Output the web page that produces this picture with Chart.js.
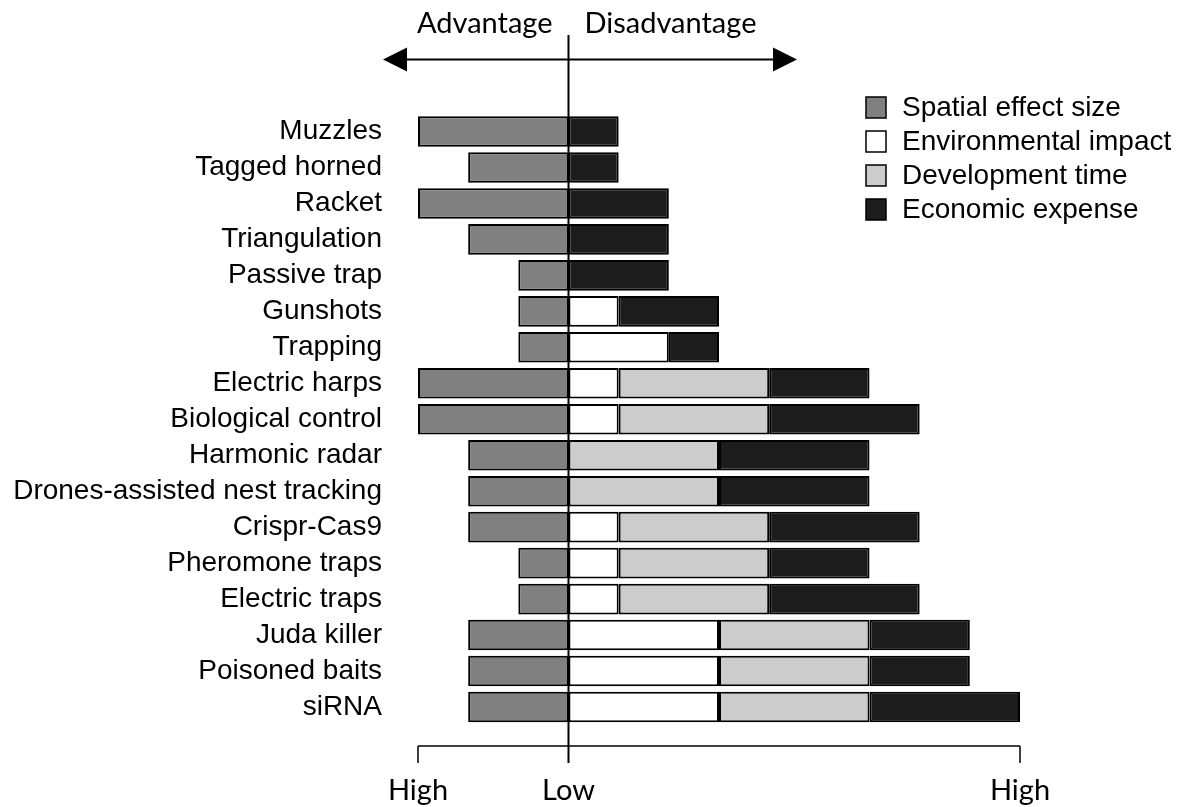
<!DOCTYPE html>
<html>
<head>
<meta charset="utf-8">
<script src="https://cdn.jsdelivr.net/npm/chart.js@4/dist/chart.umd.min.js"></script>
<style>
  html, body { margin: 0; padding: 0; background: #ffffff; }
  canvas { display: block; }
</style>
</head>
<body>
<canvas id="c" width="1187" height="807"></canvas>
<script>
// ---- Data ----
const categories = [
  'Muzzles', 'Tagged horned', 'Racket', 'Triangulation', 'Passive trap',
  'Gunshots', 'Trapping', 'Electric harps', 'Biological control', 'Harmonic radar',
  'Drones-assisted nest tracking', 'Crispr-Cas9', 'Pheromone traps', 'Electric traps',
  'Juda killer', 'Poisoned baits', 'siRNA'
];
const spatialEffect = [-3, -2, -3, -2, -1, -1, -1, -3, -3, -2, -2, -2, -1, -1, -2, -2, -2];
const environmentalImpact = [null, null, null, null, null, 1, 2, 1, 1, null, null, 1, 1, 1, 3, 3, 3];
const developmentTime = [null, null, null, null, null, null, null, 3, 3, 3, 3, 3, 3, 3, 3, 3, 3];
const economicExpense = [1, 1, 2, 2, 2, 2, 1, 2, 3, 3, 3, 3, 2, 3, 2, 2, 3];

const seriesNames = ['Spatial effect size', 'Environmental impact', 'Development time', 'Economic expense'];
const seriesColors = ['#808080', '#ffffff', '#cccccc', '#1c1c1c'];

const bracketTicks = [-3, 0, 9];
const bracketLabels = ['High', 'Low', 'High'];
const directionLabels = ['Advantage', 'Disadvantage'];

const labelFont = '"Liberation Sans", Arial, sans-serif';
const calFont = 'Lato, "Open Sans", sans-serif';

const overlay = {
  id: 'overlay',
  afterDatasetsDraw(chart) {
    const ctx = chart.ctx;
    const x = chart.scales.x;
    const x0 = x.getPixelForValue(0);
    ctx.save();
    ctx.strokeStyle = '#000';
    ctx.fillStyle = '#000';

    // central vertical line
    ctx.lineWidth = 2;
    ctx.beginPath();
    ctx.moveTo(x0, 35);
    ctx.lineTo(x0, 763);
    ctx.stroke();

    // double arrow
    const ay = 59.5;
    ctx.beginPath();
    ctx.moveTo(400, ay);
    ctx.lineTo(780, ay);
    ctx.stroke();
    ctx.beginPath();
    ctx.moveTo(383, ay);
    ctx.lineTo(407, ay - 12);
    ctx.lineTo(407, ay + 12);
    ctx.closePath();
    ctx.fill();
    ctx.beginPath();
    ctx.moveTo(797, ay);
    ctx.lineTo(773, ay - 12);
    ctx.lineTo(773, ay + 12);
    ctx.closePath();
    ctx.fill();

    // direction labels
    ctx.font = '29px ' + calFont;
    ctx.textBaseline = 'alphabetic';
    ctx.textAlign = 'right';
    ctx.fillText(directionLabels[0], x0 - 16, 33);
    ctx.textAlign = 'left';
    ctx.fillText(directionLabels[1], x0 + 16, 33);

    // bottom bracket
    const by = 746, bt = 763;
    const xs = bracketTicks.map(v => x.getPixelForValue(v));
    ctx.lineWidth = 1.5;
    ctx.beginPath();
    ctx.moveTo(xs[0], by);
    ctx.lineTo(xs[xs.length - 1], by);
    ctx.stroke();
    ctx.beginPath();
    xs.forEach((px, i) => {
      if (i === 1) return;
      ctx.moveTo(px, by);
      ctx.lineTo(px, bt);
    });
    ctx.stroke();
    ctx.textAlign = 'center';
    bracketLabels.forEach((t, i) => ctx.fillText(t, xs[i], 800));

    // legend
    ctx.font = '28px ' + labelFont;
    ctx.textBaseline = 'middle';
    ctx.textAlign = 'left';
    chart.data.datasets.forEach((ds, i) => {
      const cy = 107 + i * 34;
      ctx.fillStyle = ds.backgroundColor;
      ctx.fillRect(866, cy - 10, 20, 21);
      ctx.lineWidth = 1.5;
      ctx.strokeStyle = '#000';
      ctx.strokeRect(866, cy - 10, 20, 21);
      ctx.fillStyle = '#000';
      ctx.fillText(ds.label, 902, cy + 1);
    });
    ctx.restore();
  }
};

const seriesData = [spatialEffect, environmentalImpact, developmentTime, economicExpense];

new Chart(document.getElementById('c'), {
  type: 'bar',
  data: {
    labels: categories,
    datasets: seriesNames.map((name, i) => ({
      label: name,
      data: seriesData[i],
      backgroundColor: seriesColors[i],
      borderColor: '#000000',
      borderWidth: 2,
      borderSkipped: false,
      categoryPercentage: 1,
      barPercentage: 0.85
    }))
  },
  options: {
    indexAxis: 'y',
    responsive: false,
    animation: false,
    devicePixelRatio: 1,
    layout: { padding: { top: 113.5, right: 167, bottom: 82, left: 0 } },
    plugins: { legend: { display: false }, tooltip: { enabled: false } },
    scales: {
      x: {
        stacked: true,
        display: false,
        min: -3,
        max: 9
      },
      y: {
        stacked: true,
        grid: { display: false, drawTicks: false },
        border: { display: false },
        ticks: {
          color: '#000',
          font: { family: labelFont, size: 28 },
          padding: 36,
          autoSkip: false
        },
        afterFit(scale) { scale.width = 418; }
      }
    }
  },
  plugins: [overlay]
});
</script>
</body>
</html>
